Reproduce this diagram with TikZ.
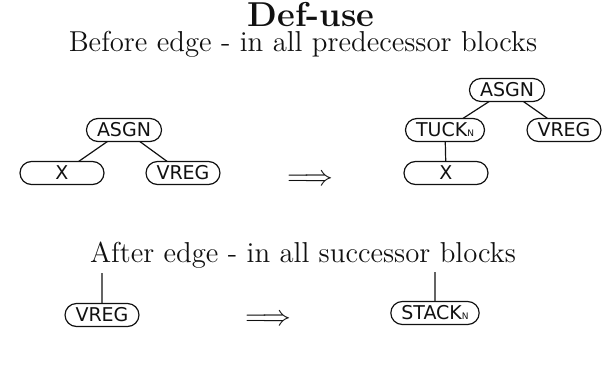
\documentclass[tikz,border=0pt]{standalone}
\usepackage{fontspec}
\setsansfont{DejaVu Sans}
\usetikzlibrary{shapes.misc}
\definecolor{duInk}{HTML}{111111}
\tikzset{
  du diagram/.style={
    x=0.5pt, y=-0.5pt, line width=0.6pt, draw=duInk,
    every node/.style={text=duInk, inner sep=0pt, outer sep=0pt}
  },
  du head/.style={font=\Large, anchor=base},
  du op/.style={draw=duInk, rounded rectangle, font=\sffamily\fontsize{9.5}{11}\selectfont,
    minimum height=11.5pt, inner xsep=4pt},
  du wide/.style={du op, minimum width=50pt},
  du link/.style={draw=duInk, line width=0.6pt}
}
\newcommand{\DuSub}[1]{{\fontsize{4.5}{5}\selectfont #1}}

\begin{document}
\begin{tikzpicture}[du diagram]
  \useasboundingbox (0,0) rectangle (606,370);
  % headings
  \node[du head, font=\LARGE\bfseries] (title) at (311,26) {Def-use};
  \node[du head] (before) at (303,51) {Before edge - in all predecessor blocks};
  \node[du head] (after) at (303,262) {After edge - in all successor blocks};
  % before edge: left tree
  \node[du op] (asgnL) at (124,130) {ASGN};
  \node[du wide] (xL) at (62,173) {X};
  \node[du op] (vregL) at (183,173) {VREG};
  \draw[du link] (asgnL) -- (xL);
  \draw[du link] (asgnL) -- (vregL);
  \node[font=\Large] (arrT) at (310,180) {$\Longrightarrow$};
  % before edge: right tree
  \node[du op] (asgnR) at (507,90) {ASGN};
  \node[du op] (tuck) at (445,130) {TUCK\DuSub{N}};
  \node[du op] (vregR) at (564,130) {VREG};
  \node[du wide] (xR) at (446,173) {X};
  \draw[du link] (asgnR) -- (tuck);
  \draw[du link] (asgnR) -- (vregR);
  \draw[du link] (tuck) -- (xR);
  % after edge
  \node[du op] (vregB) at (102,315) {VREG};
  \coordinate (vregTop) at (102,273);
  \draw[du link] (vregTop) -- (vregB);
  \node[font=\Large] (arrB) at (268,320) {$\Longrightarrow$};
  \node[du op] (stack) at (435,313) {STACK\DuSub{N}};
  \coordinate (stackTop) at (435,272);
  \draw[du link] (stackTop) -- (stack);
\end{tikzpicture}
\end{document}
